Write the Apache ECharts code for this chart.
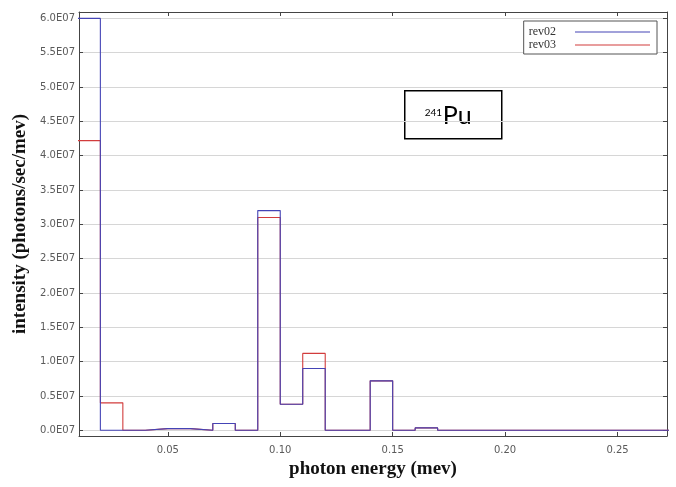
<!DOCTYPE html>
<html>
<head>
<meta charset="utf-8">
<script src="https://cdn.jsdelivr.net/npm/echarts@6/dist/echarts.min.js"></script>
<style>
  html, body { margin: 0; padding: 0; background: #fff; }
  #chart { width: 676px; height: 487px; }
</style>
</head>
<body>
<div id="chart"></div>
<script>
// Left edges of the 0.01 MeV energy bins
const binEdges = [0.01, 0.02, 0.03, 0.04, 0.05, 0.06, 0.07, 0.08, 0.09, 0.10,
                  0.11, 0.12, 0.13, 0.14, 0.15, 0.16, 0.17, 0.18, 0.19, 0.20,
                  0.21, 0.22, 0.23, 0.24, 0.25, 0.26, 0.27];
const lastEdge = 0.28;

// Photon intensity per bin (photons/sec/mev)
const rev02 = [6.0e7, 0, 0, 0.025e7, 0.025e7, 0, 0.1e7, 0, 3.2e7, 0.38e7,
               0.9e7, 0, 0, 0.72e7, 0, 0.035e7, 0, 0, 0, 0,
               0, 0, 0, 0, 0, 0, 0];
const rev03 = [4.22e7, 0.4e7, 0, 0.025e7, 0.025e7, 0, 0.1e7, 0, 3.1e7, 0.38e7,
               1.12e7, 0, 0, 0.72e7, 0, 0.035e7, 0, 0, 0, 0,
               0, 0, 0, 0, 0, 0, 0];

// Axis ticks
const xTicks = [0.05, 0.10, 0.15, 0.20, 0.25];
const yTicks = [0, 0.5e7, 1.0e7, 1.5e7, 2.0e7, 2.5e7, 3.0e7, 3.5e7, 4.0e7, 4.5e7, 5.0e7, 5.5e7, 6.0e7];

const X_MIN = 0.0105, X_MAX = 0.272;
const Y_MIN = -0.083e7, Y_MAX = 6.093e7;

function steps(values) {
  const pts = binEdges.map((e, i) => [e, values[i]]);
  pts.push([lastEdge, values[values.length - 1]]);
  return pts;
}

const frameColor = '#444';
const blue = '#4444b6';
const red = '#d23c3c';
const labelStyle = { color: '#5a5a5a', fontFamily: 'DejaVu Sans', fontSize: 10 };
const titleStyle = { fontFamily: 'Liberation Serif', fontWeight: 'bold', color: '#111' };

const chart = echarts.init(document.getElementById('chart'), null, { renderer: 'canvas' });
chart.setOption({
  animation: false,
  backgroundColor: '#fff',
  grid: { left: 79, right: 9, top: 12, bottom: 51 },
  legend: {
    data: ['rev02', 'rev03'],
    orient: 'vertical',
    right: 19,
    top: 21,
    align: 'right',
    icon: 'rect',
    itemWidth: 75,
    itemHeight: 1,
    itemGap: 1,
    padding: [5, 7, 3, 5],
    borderColor: '#555',
    borderWidth: 1,
    backgroundColor: '#fff',
    textStyle: { fontFamily: 'Liberation Serif', fontSize: 12, color: '#333', padding: [0, 14, 0, 0] }
  },
  xAxis: [{
    type: 'value',
    position: 'bottom',
    min: X_MIN, max: X_MAX,
    name: 'photon energy (mev)',
    nameLocation: 'middle',
    nameGap: 22,
    nameTextStyle: { ...titleStyle, fontSize: 19 },
    axisLine: { show: true, onZero: false, lineStyle: { color: frameColor, width: 1 } },
    axisTick: { show: true, inside: true, length: 4, customValues: xTicks, lineStyle: { color: frameColor } },
    axisLabel: { ...labelStyle, margin: 9, customValues: xTicks, formatter: v => v.toFixed(2) },
    splitLine: { show: false }
  }, {
    type: 'value',
    position: 'top',
    min: X_MIN, max: X_MAX,
    axisLine: { show: true, onZero: false, lineStyle: { color: frameColor, width: 1 } },
    axisTick: { show: true, inside: true, length: 4, customValues: xTicks, lineStyle: { color: frameColor } },
    axisLabel: { show: false },
    splitLine: { show: false }
  }],
  yAxis: [{
    type: 'value',
    position: 'left',
    min: Y_MIN, max: Y_MAX,
    name: 'intensity (photons/sec/mev)',
    nameLocation: 'middle',
    nameGap: 45,
    nameTextStyle: { ...titleStyle, fontSize: 19 },
    axisLine: { show: true, onZero: false, lineStyle: { color: frameColor, width: 1 } },
    axisTick: { show: true, inside: true, length: 4, customValues: yTicks, lineStyle: { color: frameColor } },
    axisLabel: { ...labelStyle, margin: 4, customValues: yTicks, formatter: v => (v / 1e7).toFixed(1) + 'E07' },
    splitLine: { show: true, lineStyle: { color: '#d6d6d6', width: 1 } }
  }, {
    type: 'value',
    position: 'right',
    min: Y_MIN, max: Y_MAX,
    axisLine: { show: true, onZero: false, lineStyle: { color: frameColor, width: 1 } },
    axisTick: { show: true, inside: true, length: 4, customValues: yTicks, lineStyle: { color: frameColor } },
    axisLabel: { show: false },
    splitLine: { show: false }
  }],
  series: [{
    name: 'rev03',
    type: 'line',
    step: 'end',
    xAxisIndex: 0, yAxisIndex: 0,
    data: steps(rev03),
    showSymbol: false,
    symbol: 'none',
    clip: true,
    color: red,
    lineStyle: { color: red, width: 1.1 },
    z: 2
  }, {
    name: 'rev02',
    type: 'line',
    step: 'end',
    xAxisIndex: 0, yAxisIndex: 0,
    data: steps(rev02),
    showSymbol: false,
    symbol: 'none',
    clip: true,
    color: blue,
    lineStyle: { color: blue, width: 1.1 },
    z: 3
  }],
  graphic: [{
    type: 'group',
    left: 404,
    top: 90,
    children: [{
      type: 'rect',
      shape: { x: 0, y: 0, width: 97, height: 48 },
      style: { fill: '#fff', stroke: '#000', lineWidth: 1.5 }
    }, {
      type: 'text',
      x: 20, y: 22,
      style: { text: '241', fontFamily: 'Lato', fontSize: 10, fill: '#000', textAlign: 'left', textVerticalAlign: 'middle' }
    }, {
      type: 'text',
      x: 38, y: 25,
      style: { text: 'Pu', fontFamily: 'Lato', fontSize: 25, fill: '#000', textAlign: 'left', textVerticalAlign: 'middle' }
    }]
  }]
});
</script>
</body>
</html>
